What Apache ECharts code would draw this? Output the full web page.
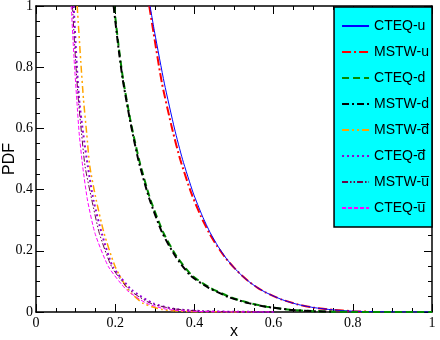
<!DOCTYPE html>
<html>
<head>
<meta charset="utf-8">
<script src="https://cdn.jsdelivr.net/npm/echarts@6/dist/echarts.min.js"></script>
<style>html,body{margin:0;padding:0;background:#fff;}#c{width:440px;height:340px;}</style>
</head>
<body>
<div id="c"></div>
<script>
const xTicks = [0, 0.2, 0.4, 0.6, 0.8, 1];
const yTicks = [0, 0.2, 0.4, 0.6, 0.8, 1];

const seriesNames = ['CTEQ-u', 'MSTW-u', 'CTEQ-d', 'MSTW-d', 'MSTW-d\u0305', 'CTEQ-d\u0305', 'MSTW-u\u0305', 'CTEQ-u\u0305'];

const cteqU_x = [0.288,0.30,0.324,0.35,0.37,0.397,0.42,0.44,0.46,0.48,0.50,0.52,0.54,0.56,0.58,0.62,0.66,0.70,0.75,0.80,0.85,0.90,0.95,1.0];
const cteqU_y = [1.0,0.911,0.748,0.598,0.499,0.389,0.314,0.259,0.214,0.176,0.145,0.119,0.097,0.079,0.064,0.041,0.025,0.0147,0.0069,0.0028,0.00094,0.00023,0.00003,0];

const mstwU_x = [0.286,0.297,0.318,0.344,0.364,0.392,0.416,0.437,0.458,0.479,0.50,0.52,0.54,0.56,0.58,0.62,0.66,0.70,0.75,0.80,0.84];
const mstwU_y = [1.0,0.911,0.748,0.598,0.499,0.389,0.314,0.259,0.214,0.176,0.145,0.119,0.097,0.079,0.064,0.041,0.025,0.0147,0.0069,0.0028,0.0011];

const cteqD_x = [0.197,0.208,0.220,0.240,0.261,0.288,0.321,0.355,0.395,0.44,0.49,0.54,0.583,0.64,0.70,0.75,0.80,0.90,1.0];
const cteqD_y = [1.0,0.876,0.76,0.616,0.494,0.371,0.261,0.182,0.118,0.079,0.049,0.029,0.0175,0.0075,0.0027,0.001,0.0003,0.00002,0];

const mstwD_x = [0.196,0.207,0.219,0.239,0.259,0.286,0.318,0.352,0.391,0.436,0.486,0.536,0.58,0.64,0.70,0.75];
const mstwD_y = [1.0,0.876,0.76,0.616,0.494,0.371,0.261,0.182,0.118,0.079,0.049,0.029,0.0175,0.0075,0.0027,0.001];

const mstwDbar_x = [0.104,0.113,0.120,0.128,0.136,0.152,0.172,0.200,0.233,0.271,0.32,0.38,0.45,0.55];
const mstwDbar_y = [1.0,0.82,0.693,0.584,0.475,0.366,0.257,0.148,0.072,0.028,0.008,0.002,0.0005,0.0001];

const cteqDbar_x = [0.095,0.102,0.109,0.119,0.131,0.145,0.166,0.194,0.242,0.296,0.35,0.42,0.5,0.6];
const cteqDbar_y = [1.0,0.83,0.693,0.584,0.475,0.366,0.257,0.148,0.072,0.028,0.010,0.003,0.0008,0.0001];

const mstwUbar_x = [0.092,0.100,0.107,0.115,0.124,0.141,0.160,0.191,0.236,0.29,0.35,0.42,0.5,0.6];
const mstwUbar_y = [1.0,0.82,0.693,0.584,0.475,0.366,0.257,0.148,0.072,0.028,0.010,0.003,0.0008,0.0001];

const cteqUbar_x = [0.089,0.096,0.103,0.109,0.118,0.130,0.149,0.183,0.229,0.28,0.33,0.40,0.5,0.6];
const cteqUbar_y = [1.0,0.83,0.693,0.584,0.475,0.366,0.257,0.148,0.072,0.028,0.009,0.002,0.0003,0];

function pairs(xs, ys) { return xs.map((x, i) => [x, ys[i]]); }

const styles = {
  'CTEQ-u': { color: '#0000ff', width: 1, type: 'solid' },
  'MSTW-u': { color: '#ff0000', width: 2, type: [9, 3, 2, 3] },
  'CTEQ-d': { color: '#008b00', width: 2, type: [7, 4] },
  'MSTW-d': { color: '#000000', width: 2, type: [7, 3, 2, 3] },
  'MSTW-d\u0305': { color: '#ffa500', width: 1.5, type: [7, 3, 2, 3, 2, 3] },
  'CTEQ-d\u0305': { color: '#9400d3', width: 2, type: [2, 3] },
  'MSTW-u\u0305': { color: '#670748', width: 1, type: [6, 2, 1.5, 2, 1.5, 2] },
  'CTEQ-u\u0305': { color: '#ff00ff', width: 1, type: [4, 2] }
};

const dataMap = {
  'CTEQ-u': pairs(cteqU_x, cteqU_y),
  'MSTW-u': pairs(mstwU_x, mstwU_y),
  'CTEQ-d': pairs(cteqD_x, cteqD_y),
  'MSTW-d': pairs(mstwD_x, mstwD_y),
  'MSTW-d\u0305': pairs(mstwDbar_x, mstwDbar_y),
  'CTEQ-d\u0305': pairs(cteqDbar_x, cteqDbar_y),
  'MSTW-u\u0305': pairs(mstwUbar_x, mstwUbar_y),
  'CTEQ-u\u0305': pairs(cteqUbar_x, cteqUbar_y)
};

const drawOrder = ['MSTW-u', 'CTEQ-u', 'CTEQ-d', 'MSTW-d', 'MSTW-d\u0305', 'CTEQ-d\u0305', 'MSTW-u\u0305', 'CTEQ-u\u0305'];

const series = drawOrder.map(name => ({
  name: name,
  type: 'line',
  data: dataMap[name],
  symbol: 'none',
  showSymbol: false,
  smooth: 0.2,
  color: styles[name].color,
  lineStyle: { color: styles[name].color, width: styles[name].width, type: styles[name].type },
  animation: false
}));

const serif = 'Liberation Serif';
const sans = 'Liberation Sans';

function axisCommon(show) {
  return {
    type: 'value', min: 0, max: 1, interval: 0.2,
    axisLine: { show: true, onZero: false, lineStyle: { color: '#000', width: 1.5 } },
    axisTick: { show: true, inside: true, length: 8, lineStyle: { color: '#000', width: 1 } },
    minorTick: { show: true, splitNumber: 4, length: 4, lineStyle: { color: '#000', width: 1 } },
    splitLine: { show: false },
    axisLabel: {
      show: show, color: '#000', fontFamily: serif, fontSize: 14,
      formatter: v => String(parseFloat(v.toFixed(2)))
    }
  };
}

const chart = echarts.init(document.getElementById('c'), null, { renderer: 'canvas' });
chart.setOption({
  animation: false,
  backgroundColor: '#fff',
  grid: { left: 36, right: 8, top: 6, bottom: 28, containLabel: false, outerBoundsMode: 'none' },
  xAxis: [
    Object.assign(axisCommon(true), {
      position: 'bottom',
      name: 'x', nameLocation: 'middle', nameGap: 12, nameMoveOverlap: false,
      nameTextStyle: { fontFamily: sans, fontSize: 16, color: '#000', verticalAlign: 'top' },
      axisLabel: Object.assign(axisCommon(true).axisLabel, { margin: 4 })
    }),
    Object.assign(axisCommon(false), { position: 'top' })
  ],
  yAxis: [
    Object.assign(axisCommon(true), {
      position: 'left',
      name: 'PDF', nameLocation: 'middle', nameGap: 18, nameRotate: 90, nameMoveOverlap: false,
      nameTextStyle: { fontFamily: sans, fontSize: 16, color: '#000' },
      axisLabel: Object.assign(axisCommon(true).axisLabel, { margin: 3 })
    }),
    Object.assign(axisCommon(false), { position: 'right' })
  ],
  legend: {
    orient: 'vertical',
    right: 8, top: 7,
    data: seriesNames,
    backgroundColor: '#00ffff',
    borderColor: '#000', borderWidth: 1.5, borderRadius: 0,
    padding: [12, 3, 12, 7],
    itemWidth: 27, itemHeight: 14, itemGap: 12,
    itemStyle: { opacity: 0 },
    textStyle: { fontFamily: sans, fontSize: 14, color: '#000' },
    selectedMode: false
  },
  series: series
});
</script>
</body>
</html>
